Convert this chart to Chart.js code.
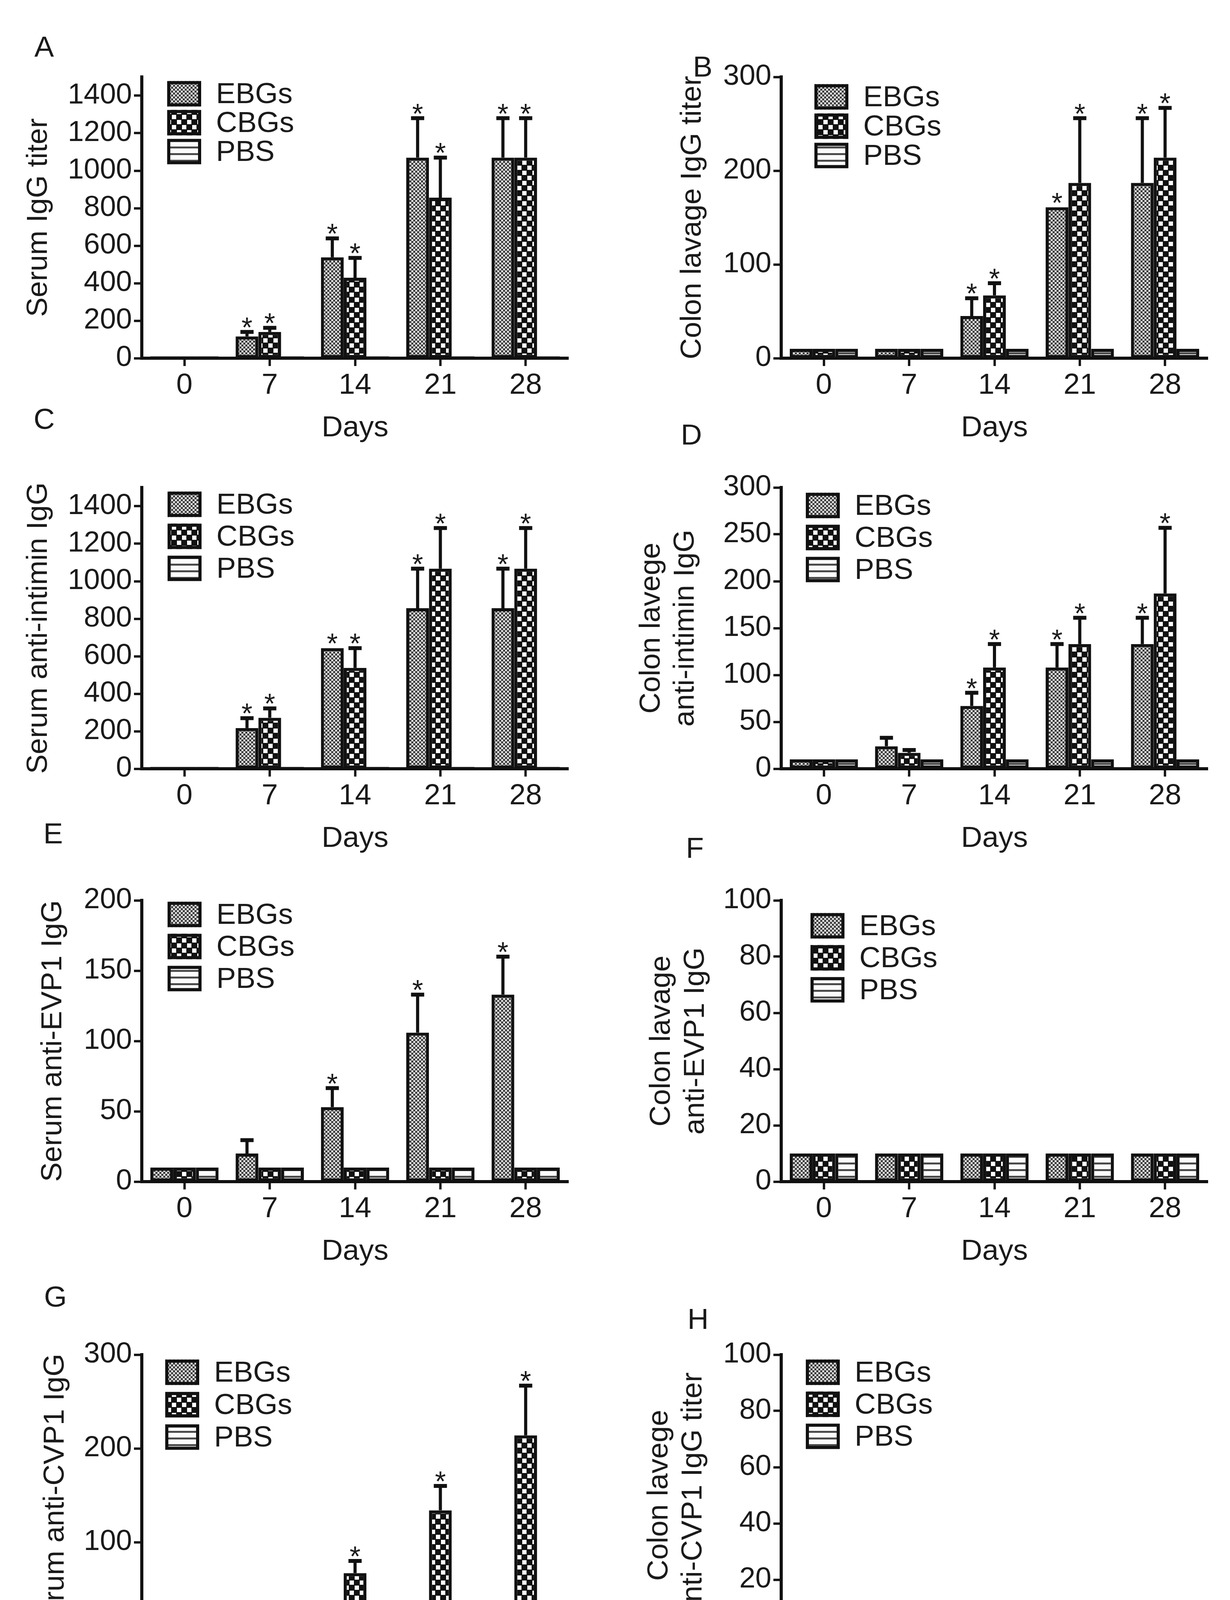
<!DOCTYPE html>
<html><head><meta charset="utf-8">
<script src="https://cdn.jsdelivr.net/npm/chart.js@4.4.1/dist/chart.umd.min.js"></script>
<style>
html,body{margin:0;padding:0;background:#fff;}
body{width:3149px;height:4453px;position:relative;overflow:hidden;font-family:"Liberation Sans",Arial,sans-serif;}
canvas{position:absolute;}
.lbl{position:absolute;font-size:75px;color:#1a1a1a;line-height:1;transform:translate(-50%,-50%);}
</style></head><body>
<script>
// ---------- data ----------
const days = ['0', '7', '14', '21', '28'];
const groups = ['EBGs', 'CBGs', 'PBS'];

// A: Serum IgG titer
const A_EBGs = [10, 116, 538, 1070, 1070];
const A_CBGs = [10, 140, 429, 856, 1070];
const A_PBS  = [10, 10, 10, 10, 10];
const A_EBGs_err = [0, 24, 101, 210, 210];
const A_CBGs_err = [0, 22, 106, 214, 210];
const A_EBGs_sig = [0, 1, 1, 1, 1];
const A_CBGs_sig = [0, 1, 1, 1, 1];

// B: Colon lavage IgG titer
const B_EBGs = [10, 10, 45, 161, 187];
const B_CBGs = [10, 10, 67, 187, 214];
const B_PBS  = [10, 10, 10, 10, 10];
const B_EBGs_err = [0, 0, 19, 0, 69];
const B_CBGs_err = [0, 0, 13, 69, 53];
const B_EBGs_sig = [0, 0, 1, 1, 1];
const B_CBGs_sig = [0, 0, 1, 1, 1];

// C: Serum anti-intimin IgG
const C_EBGs = [10, 217, 643, 856, 856];
const C_CBGs = [10, 272, 538, 1067, 1067];
const C_PBS  = [10, 10, 10, 10, 10];
const C_EBGs_err = [0, 53, 0, 211, 211];
const C_CBGs_err = [0, 50, 105, 217, 217];
const C_EBGs_sig = [0, 1, 1, 1, 1];
const C_CBGs_sig = [0, 1, 1, 1, 1];

// D: Colon lavege anti-intimin IgG
const D_EBGs = [10, 24, 67, 108, 133];
const D_CBGs = [10, 17, 108, 133, 187];
const D_PBS  = [10, 10, 10, 10, 10];
const D_EBGs_err = [0, 9, 14, 25, 28];
const D_CBGs_err = [0, 3, 25, 28, 70];
const D_EBGs_sig = [0, 0, 1, 1, 1];
const D_CBGs_sig = [0, 0, 1, 1, 1];

// E: Serum anti-EVP1 IgG
const E_EBGs = [10, 20, 53, 106, 133];
const E_CBGs = [10, 10, 10, 10, 10];
const E_PBS  = [10, 10, 10, 10, 10];
const E_EBGs_err = [0, 9.5, 13.5, 27, 27];
const E_CBGs_err = [0, 0, 0, 0, 0];
const E_EBGs_sig = [0, 0, 1, 1, 1];
const E_CBGs_sig = [0, 0, 0, 0, 0];

// F: Colon lavage anti-EVP1 IgG
const F_EBGs = [10, 10, 10, 10, 10];
const F_CBGs = [10, 10, 10, 10, 10];
const F_PBS  = [10, 10, 10, 10, 10];

// G: Serum anti-CVP1 IgG
const G_EBGs = [10, 10, 10, 10, 10];
const G_CBGs = [10, 15, 67, 134, 214];
const G_PBS  = [10, 10, 10, 10, 10];
const G_EBGs_err = [0, 0, 0, 0, 0];
const G_CBGs_err = [0, 3, 13, 26, 53];
const G_EBGs_sig = [0, 0, 0, 0, 0];
const G_CBGs_sig = [0, 0, 1, 1, 1];

// H: Colon lavege anti-CVP1 IgG titer
const H_EBGs = [10, 10, 10, 10, 10];
const H_CBGs = [10, 10, 10, 10, 10];
const H_PBS  = [10, 10, 10, 10, 10];

const zeros = [0, 0, 0, 0, 0];

// y-axis maxima and tick labels
const A_max = 1500, A_yticks = [0, 200, 400, 600, 800, 1000, 1200, 1400];
const B_max = 300,  B_yticks = [0, 100, 200, 300];
const C_max = 1500, C_yticks = [0, 200, 400, 600, 800, 1000, 1200, 1400];
const D_max = 300,  D_yticks = [0, 50, 100, 150, 200, 250, 300];
const E_max = 200,  E_yticks = [0, 50, 100, 150, 200];
const F_max = 100,  F_yticks = [0, 20, 40, 60, 80, 100];
const G_max = 300,  G_yticks = [0, 100, 200, 300];
const H_max = 100,  H_yticks = [0, 20, 40, 60, 80, 100];

const panels = [
  {id:'A', title:['Serum IgG titer'], max:A_max, yticks:A_yticks, vals:[A_EBGs,A_CBGs,A_PBS], errs:[A_EBGs_err,A_CBGs_err,zeros], sig:[A_EBGs_sig,A_CBGs_sig,zeros]},
  {id:'B', title:['Colon lavage IgG titer'], max:B_max, yticks:B_yticks, vals:[B_EBGs,B_CBGs,B_PBS], errs:[B_EBGs_err,B_CBGs_err,zeros], sig:[B_EBGs_sig,B_CBGs_sig,zeros]},
  {id:'C', title:['Serum anti-intimin IgG'], max:C_max, yticks:C_yticks, vals:[C_EBGs,C_CBGs,C_PBS], errs:[C_EBGs_err,C_CBGs_err,zeros], sig:[C_EBGs_sig,C_CBGs_sig,zeros]},
  {id:'D', title:['Colon lavege','anti-intimin IgG'], max:D_max, yticks:D_yticks, vals:[D_EBGs,D_CBGs,D_PBS], errs:[D_EBGs_err,D_CBGs_err,zeros], sig:[D_EBGs_sig,D_CBGs_sig,zeros]},
  {id:'E', title:['Serum anti-EVP1 IgG'], max:E_max, yticks:E_yticks, vals:[E_EBGs,E_CBGs,E_PBS], errs:[E_EBGs_err,E_CBGs_err,zeros], sig:[E_EBGs_sig,E_CBGs_sig,zeros]},
  {id:'F', title:['Colon lavage','anti-EVP1 IgG'], max:F_max, yticks:F_yticks, vals:[F_EBGs,F_CBGs,F_PBS], errs:[zeros,zeros,zeros], sig:[zeros,zeros,zeros]},
  {id:'G', title:['Serum anti-CVP1 IgG'], max:G_max, yticks:G_yticks, vals:[G_EBGs,G_CBGs,G_PBS], errs:[G_EBGs_err,G_CBGs_err,zeros], sig:[G_EBGs_sig,G_CBGs_sig,zeros]},
  {id:'H', title:['Colon lavege','anti-CVP1 IgG titer'], max:H_max, yticks:H_yticks, vals:[H_EBGs,H_CBGs,H_PBS], errs:[zeros,zeros,zeros], sig:[zeros,zeros,zeros]},
];

// ---------- layout (positions / styles) ----------
const FONT = '"Liberation Sans", Arial, sans-serif';
const INK = '#1a1a1a';
const LINE = '#111111';
const axisX = [363, 2000];
const plotTop = [197, 1248, 2305, 3468];
const plotW = 1092, plotH = 720, padTop = 60, padRight = 50, xH = 230;
const yW = [340, 400];
const BOX_W = 87, BOX_H = 65;
const layout = {
  A:{col:0,row:0,tp:31,  letter:[113,119],  leg:[65,43,74]},
  B:{col:1,row:0,tp:128, letter:[1799,170], leg:[85,51,75]},
  C:{col:0,row:1,tp:31,  letter:[113,1072], leg:[66,43,82]},
  D:{col:1,row:1,tp:24,  letter:[1770,1112],leg:[63,46,82]},
  E:{col:0,row:2,tp:68,  letter:[136,2133], leg:[66,36,82]},
  F:{col:1,row:2,tp:50,  letter:[1779,2170],leg:[75,65,82]},
  G:{col:0,row:3,tp:74,  letter:[142,3319], leg:[60,45,83]},
  H:{col:1,row:3,tp:44,  letter:[1787,3376],leg:[63,45,82]},
};

function makePattern(kind){
  const c = document.createElement('canvas'); const x = c.getContext('2d');
  if (kind === 0) {
    c.width = c.height = 10;
    x.fillStyle = '#dedede'; x.fillRect(0,0,10,10);
    x.fillStyle = '#3a3a3a'; x.fillRect(0,0,5,5); x.fillRect(5,5,5,5);
  } else if (kind === 1) {
    c.width = c.height = 26;
    x.fillStyle = '#111'; x.fillRect(0,0,26,26);
    x.fillStyle = '#fff'; x.fillRect(1,1,11,11); x.fillRect(14,14,11,11);
  } else {
    c.width = c.height = 17;
    x.fillStyle = '#fbfbfb'; x.fillRect(0,0,17,17);
    x.fillStyle = '#4a4a4a'; x.fillRect(0,0,17,5);
  }
  return x.createPattern(c, 'repeat');
}
const patterns = [makePattern(0), makePattern(1), makePattern(2)];

const extras = {
  id: 'extras',
  afterDatasetsDraw(chart) {
    const p = chart.options.plugins.extras;
    const ctx = chart.ctx, ys = chart.scales.y;
    ctx.save();
    chart.data.datasets.forEach((ds, i) => {
      const meta = chart.getDatasetMeta(i);
      meta.data.forEach((bar, j) => {
        const v = ds.data[j], e = p.errs[i][j];
        let top = bar.y;
        if (e > 0) {
          const yt = ys.getPixelForValue(v + e);
          const hw = bar.width * 0.29;
          ctx.strokeStyle = LINE; ctx.lineCap = 'butt';
          ctx.lineWidth = 8;
          ctx.beginPath(); ctx.moveTo(bar.x, bar.y); ctx.lineTo(bar.x, yt); ctx.stroke();
          ctx.lineWidth = 10;
          ctx.beginPath(); ctx.moveTo(bar.x - hw, yt); ctx.lineTo(bar.x + hw, yt); ctx.stroke();
          top = yt;
        }
        if (p.sig[i][j]) {
          ctx.fillStyle = INK; ctx.font = '72px ' + FONT;
          ctx.textAlign = 'center'; ctx.textBaseline = 'alphabetic';
          ctx.fillText('*', bar.x, top + 13);
        }
      });
    });
    ctx.restore();
  },
  afterDraw(chart) {
    const p = chart.options.plugins.extras;
    const ctx = chart.ctx, ca = chart.chartArea, L = p.legend;
    ctx.save();
    for (let k = 0; k < 3; k++) {
      const bx = ca.left + L[0], cy = ca.top + L[1] + k * L[2], by = cy - BOX_H / 2;
      ctx.fillStyle = patterns[k]; ctx.fillRect(bx, by, BOX_W, BOX_H);
      ctx.strokeStyle = LINE; ctx.lineWidth = 8; ctx.strokeRect(bx + 4, by + 4, BOX_W - 8, BOX_H - 8);
      ctx.fillStyle = INK; ctx.font = '75px ' + FONT;
      ctx.textAlign = 'left'; ctx.textBaseline = 'middle';
      ctx.fillText(chart.data.datasets[k].label, bx + 125, cy + 3);
    }
    ctx.restore();
  }
};

panels.forEach(P => {
  const g = layout[P.id];
  const W = yW[g.col];
  const left = axisX[g.col] - W, top = plotTop[g.row] - padTop;
  const cv = document.createElement('canvas');
  cv.width = W + plotW + padRight; cv.height = padTop + plotH + xH;
  cv.style.left = left + 'px'; cv.style.top = top + 'px';
  cv.style.width = cv.width + 'px'; cv.style.height = cv.height + 'px';
  document.body.appendChild(cv);

  const lbl = document.createElement('div');
  lbl.className = 'lbl'; lbl.textContent = P.id;
  lbl.style.left = g.letter[0] + 'px'; lbl.style.top = g.letter[1] + 'px';
  document.body.appendChild(lbl);

  new Chart(cv, {
    type: 'bar',
    data: {
      labels: days,
      datasets: groups.map((name, k) => ({
        label: name, data: P.vals[k],
        backgroundColor: patterns[k], borderColor: LINE, borderWidth: 8, borderSkipped: false,
        categoryPercentage: 0.8, barPercentage: 1.0
      }))
    },
    options: {
      responsive: false, animation: false, devicePixelRatio: 1,
      layout: {padding: {top: padTop, right: padRight, left: 0, bottom: 0}},
      plugins: {
        legend: {display: false}, tooltip: {enabled: false}, title: {display: false},
        extras: {errs: P.errs, sig: P.sig, legend: g.leg}
      },
      scales: {
        x: {
          offset: true,
          grid: {offset: false, drawOnChartArea: false, drawTicks: true, tickLength: 20, tickWidth: 6, tickColor: LINE},
          border: {display: true, color: LINE, width: 8},
          ticks: {color: INK, font: {family: FONT, size: 75}, padding: 5, maxRotation: 0, autoSkip: false},
          title: {display: true, text: 'Days', color: INK, font: {family: FONT, size: 75, lineHeight: 1.2}, padding: {top: 0, bottom: 6}},
          afterFit(s) { s.height = xH; }
        },
        y: {
          min: 0, max: P.max, bounds: 'data',
          afterBuildTicks(s) { s.ticks = P.yticks.map(v => ({value: v})); },
          ticks: {autoSkip: false, color: INK, font: {family: FONT, size: 74}, padding: 5,
                  callback: v => String(v)},
          grid: {drawOnChartArea: false, drawTicks: true, tickLength: 20, tickWidth: 6, tickColor: LINE},
          border: {display: true, color: LINE, width: 8},
          title: {display: true, text: P.title, color: INK,
                  font: {family: FONT, size: 75, lineHeight: P.title.length > 1 ? 1.17 : 1.2},
                  padding: {top: g.tp, bottom: 0}},
          afterFit(s) { s.width = W; }
        }
      }
    },
    plugins: [extras]
  });
});
</script>
</body></html>
